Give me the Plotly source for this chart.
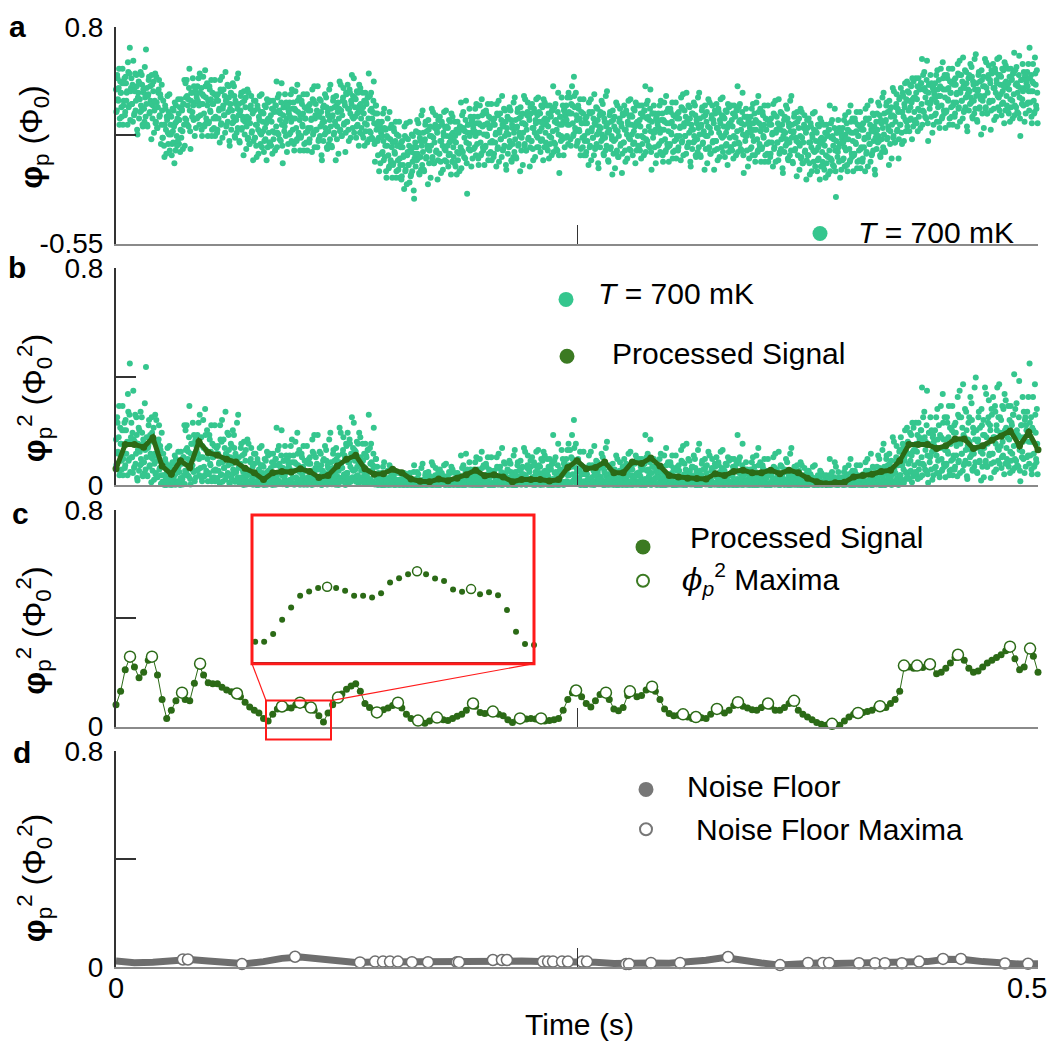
import numpy as np
import plotly.graph_objects as go

# ---------------- data ----------------
# panel a: raw flux phi_p (Phi_0); two interleaved sample sets, 1200 each, over 0..0.5 s
phi_raw = [
0.41,0.28,0.48,0.34,0.54,0.23,0.39,0.30,0.45,0.19,
0.34,0.48,0.27,0.45,0.39,0.19,0.52,0.31,0.67,0.40,
0.48,0.32,0.21,0.41,0.26,0.51,0.34,0.43,0.13,0.39,
0.23,0.35,0.52,0.28,0.44,0.18,0.39,0.21,0.36,0.66,
0.42,0.18,0.38,0.49,0.27,0.34,0.10,0.44,0.31,0.46,
0.28,0.51,0.21,0.33,0.17,0.39,0.47,0.25,0.36,0.19,
0.28,0.11,0.19,-0.01,0.31,0.16,0.24,0.37,0.07,0.13,
0.03,0.19,0.24,0.07,0.15,0.28,-0.05,0.20,0.31,0.12,
0.23,0.35,0.07,0.30,0.16,0.11,0.28,0.04,0.32,0.47,
0.23,0.36,0.47,0.19,0.35,0.42,0.28,0.04,0.39,0.24,
0.48,0.22,0.33,0.40,0.17,0.36,0.43,0.24,0.31,0.51,
0.25,0.42,0.12,0.32,0.37,0.18,0.53,0.36,0.21,0.31,
0.34,0.21,0.41,0.27,0.47,0.16,0.32,0.23,0.38,0.12,
0.23,0.37,0.16,0.34,0.28,0.08,0.41,0.20,0.49,0.29,
0.41,0.25,0.14,0.34,0.19,0.44,0.27,0.36,0.06,0.32,
0.16,0.28,0.45,0.21,0.37,0.11,0.32,0.14,0.29,0.51,
0.32,0.08,0.28,0.39,0.17,0.24,0.00,0.34,0.21,0.36,
0.18,0.41,0.11,0.23,0.07,0.29,0.37,0.15,0.26,0.09,
0.28,0.11,0.19,-0.01,0.31,0.16,0.24,0.37,0.07,0.13,
0.05,0.21,0.26,0.09,0.17,0.30,-0.03,0.22,0.33,0.14,
0.22,0.34,0.06,0.29,0.15,0.10,0.27,0.03,0.31,0.46,
0.14,0.27,0.38,0.10,0.26,0.33,0.19,-0.05,0.30,0.15,
0.38,0.12,0.23,0.30,0.07,0.26,0.33,0.14,0.21,0.41,
0.16,0.33,0.03,0.23,0.28,0.09,0.44,0.27,0.12,0.22,
0.25,0.12,0.32,0.18,0.38,0.07,0.23,0.14,0.29,0.03,
0.17,0.31,0.10,0.28,0.22,0.02,0.35,0.14,0.43,0.23,
0.32,0.16,0.05,0.25,0.10,0.35,0.18,0.27,-0.03,0.23,
0.09,0.21,0.38,0.14,0.30,0.04,0.25,0.07,0.22,0.44,
0.29,0.05,0.25,0.36,0.14,0.21,-0.03,0.31,0.18,0.33,
0.23,0.46,0.16,0.28,0.12,0.34,0.42,0.20,0.31,0.14,
0.38,0.21,0.29,0.09,0.41,0.26,0.34,0.50,0.17,0.23,
0.14,0.30,0.35,0.18,0.26,0.39,0.06,0.31,0.42,0.23,
0.27,0.39,0.11,0.34,0.20,0.15,0.32,0.08,0.36,0.51,
0.15,0.28,0.39,0.11,0.27,0.34,0.20,-0.04,0.31,0.16,
0.26,0.00,0.11,0.18,-0.05,0.14,0.21,0.02,0.09,0.29,
-0.01,0.16,-0.14,0.06,0.11,-0.08,0.27,0.10,-0.05,0.05,
0.08,-0.05,0.15,0.01,0.21,-0.10,0.06,-0.03,0.12,-0.14,
-0.06,0.08,-0.13,0.05,-0.01,-0.21,0.12,-0.09,0.20,0.00,
0.10,-0.06,-0.17,0.03,-0.12,0.13,-0.04,0.05,-0.27,0.01,
-0.07,0.05,0.22,-0.02,0.14,-0.12,0.09,-0.09,0.06,0.28,
0.14,-0.10,0.10,0.21,-0.01,0.06,-0.18,0.16,0.03,0.18,
0.06,0.29,-0.01,0.11,-0.05,0.17,0.25,0.03,0.14,-0.03,
0.18,0.01,0.09,-0.11,0.21,0.06,0.14,0.27,-0.03,0.03,
-0.04,0.12,0.17,0.00,0.08,0.21,-0.12,0.13,0.24,0.05,
0.09,0.21,-0.07,0.16,0.02,-0.03,0.14,-0.10,0.18,0.33,
0.03,0.16,0.27,-0.01,0.15,0.22,0.08,-0.24,0.19,0.04,
0.29,0.03,0.14,0.21,-0.02,0.17,0.24,0.05,0.12,0.32,
0.07,0.24,-0.06,0.14,0.19,0.00,0.35,0.18,0.03,0.13,
0.19,0.06,0.26,0.12,0.32,0.01,0.17,0.08,0.23,-0.03,
0.08,0.22,0.01,0.19,0.13,-0.07,0.26,0.05,0.34,0.14,
0.26,0.10,-0.01,0.19,0.04,0.29,0.12,0.21,-0.09,0.17,
0.01,0.13,0.30,0.06,0.22,-0.04,0.17,-0.01,0.14,0.36,
0.22,-0.02,0.18,0.29,0.07,0.14,-0.10,0.24,0.11,0.26,
0.14,0.37,0.07,0.19,0.03,0.25,0.33,0.11,0.22,0.05,
0.26,0.09,0.17,-0.03,0.29,0.14,0.22,0.35,0.05,0.11,
0.05,0.21,0.26,0.09,0.17,0.30,-0.03,0.22,0.33,0.14,
0.19,0.31,0.03,0.26,0.12,0.07,0.24,0.00,0.28,0.43,
0.08,0.21,0.32,0.04,0.20,0.27,0.13,-0.11,0.24,0.09,
0.36,0.10,0.21,0.28,0.05,0.24,0.31,0.12,0.19,0.39,
0.19,0.36,0.06,0.26,0.31,0.12,0.49,0.30,0.15,0.25,
0.22,0.09,0.29,0.15,0.35,0.04,0.20,0.11,0.26,0.00,
0.09,0.23,0.02,0.20,0.14,-0.06,0.27,0.06,0.35,0.15,
0.27,0.11,0.00,0.20,0.05,0.30,0.13,0.22,-0.08,0.18,
0.05,0.17,0.34,0.10,0.26,0.00,0.21,0.03,0.18,0.40,
0.20,-0.04,0.16,0.27,0.05,0.12,-0.12,0.22,0.09,0.24,
0.10,0.33,0.03,0.15,-0.01,0.21,0.29,0.07,0.18,0.01,
0.25,0.08,0.16,-0.04,0.28,0.13,0.21,0.34,0.04,0.10,
0.03,0.19,0.24,0.07,0.15,0.28,-0.05,0.20,0.31,0.12,
0.19,0.31,0.03,0.26,0.12,0.07,0.24,0.00,0.28,0.43,
0.10,0.23,0.34,0.06,0.22,0.29,0.15,-0.09,0.26,0.11,
0.31,0.05,0.16,0.23,0.00,0.19,0.26,0.07,0.14,0.34,
0.09,0.26,-0.04,0.16,0.21,0.02,0.37,0.20,0.05,0.15,
0.20,0.07,0.27,0.13,0.33,0.02,0.18,0.09,0.24,-0.02,
0.12,0.26,0.05,0.23,0.17,-0.03,0.30,0.09,0.38,0.18,
0.28,0.12,0.01,0.21,0.06,0.31,0.14,0.23,-0.07,0.19,
0.04,0.16,0.33,0.09,0.25,-0.01,0.20,0.02,0.17,0.39,
0.23,-0.01,0.19,0.30,0.08,0.15,-0.09,0.25,0.12,0.27,
0.12,0.35,0.05,0.17,0.01,0.23,0.31,0.09,0.20,0.03,
0.26,0.09,0.17,-0.03,0.29,0.14,0.22,0.35,0.05,0.11,
0.02,0.18,0.23,0.06,0.14,0.27,-0.06,0.19,0.30,0.11,
0.19,0.31,0.03,0.26,0.12,0.07,0.24,0.00,0.28,0.43,
0.08,0.21,0.32,0.04,0.20,0.27,0.13,-0.11,0.24,0.09,
0.29,0.03,0.14,0.21,-0.02,0.17,0.24,0.05,0.12,0.32,
0.09,0.26,-0.04,0.16,0.21,0.02,0.37,0.20,0.05,0.15,
0.18,0.05,0.25,0.11,0.31,0.00,0.16,0.07,0.22,-0.04,
0.08,0.22,0.01,0.19,0.13,-0.07,0.26,0.05,0.34,0.14,
0.24,0.08,-0.03,0.17,0.02,0.27,0.10,0.19,-0.11,0.15,
0.02,0.14,0.31,0.07,0.23,-0.03,0.18,0.00,0.15,0.37,
0.19,-0.05,0.15,0.26,0.04,0.11,-0.13,0.21,0.08,0.23,
0.06,0.29,-0.01,0.11,-0.05,0.17,0.25,0.03,0.14,-0.03,
0.17,0.00,0.08,-0.12,0.20,0.05,0.13,0.26,-0.04,0.02,
-0.07,0.09,0.14,-0.03,0.05,0.18,-0.15,0.10,0.21,0.02,
0.07,0.19,-0.09,0.14,0.00,-0.05,0.12,-0.12,0.16,0.31,
-0.02,0.11,0.22,-0.06,0.10,0.17,0.03,-0.26,0.14,-0.01,
0.22,-0.04,0.07,0.14,-0.09,0.10,0.17,-0.02,0.05,0.25,
0.03,0.20,-0.10,0.10,0.15,-0.04,0.31,0.14,-0.01,0.09,
0.14,0.01,0.21,0.07,0.27,-0.04,0.12,0.03,0.18,-0.08,
0.05,0.19,-0.02,0.16,0.10,-0.10,0.23,0.02,0.31,0.11,
0.23,0.07,-0.04,0.16,0.01,0.26,0.09,0.18,-0.12,0.14,
0.04,0.16,0.33,0.09,0.25,-0.01,0.20,0.02,0.17,0.39,
0.26,0.02,0.22,0.33,0.11,0.18,-0.06,0.28,0.15,0.30,
0.19,0.42,0.12,0.24,0.08,0.30,0.38,0.16,0.27,0.10,
0.36,0.19,0.27,0.07,0.39,0.24,0.32,0.45,0.15,0.21,
0.18,0.34,0.39,0.22,0.30,0.43,0.10,0.35,0.46,0.27,
0.36,0.48,0.20,0.43,0.29,0.24,0.41,0.17,0.45,0.60,
0.28,0.41,0.52,0.24,0.40,0.47,0.33,0.09,0.44,0.29,
0.50,0.24,0.35,0.42,0.19,0.38,0.45,0.26,0.33,0.53,
0.30,0.47,0.17,0.37,0.42,0.23,0.58,0.41,0.26,0.36,
0.41,0.28,0.48,0.34,0.54,0.23,0.39,0.30,0.45,0.19,
0.33,0.47,0.26,0.44,0.38,0.18,0.51,0.30,0.59,0.39,
0.50,0.34,0.23,0.43,0.28,0.53,0.36,0.45,0.15,0.41,
0.28,0.40,0.57,0.33,0.49,0.23,0.44,0.26,0.41,0.63,
0.45,0.21,0.41,0.52,0.30,0.37,0.13,0.47,0.34,0.49,
0.37,0.60,0.30,0.42,0.26,0.48,0.56,0.34,0.45,0.28,
0.51,0.34,0.42,0.22,0.54,0.39,0.47,0.60,0.30,0.36,
0.28,0.44,0.49,0.32,0.40,0.53,0.20,0.45,0.56,0.37,
0.42,0.54,0.26,0.49,0.35,0.30,0.47,0.23,0.51,0.64,
0.31,0.44,0.55,0.27,0.43,0.50,0.36,0.12,0.47,0.32,
0.57,0.31,0.42,0.49,0.26,0.45,0.52,0.33,0.40,0.67,
0.33,0.50,0.20,0.40,0.45,0.26,0.61,0.44,0.29,0.39,
]
phi_raw_mid = [
0.27,0.50,0.35,0.42,0.19,0.46,0.39,0.24,0.54,0.31,
0.45,0.25,0.49,0.34,0.40,0.58,0.30,0.51,0.22,0.42,
0.32,0.44,0.59,0.25,0.40,0.28,0.50,0.16,0.36,0.46,
0.45,0.27,0.31,0.50,0.19,0.41,0.29,0.55,0.24,0.32,
0.19,0.37,0.47,0.26,0.43,0.32,0.50,0.23,0.40,0.14,
0.34,0.20,0.49,0.17,0.30,0.41,0.24,0.38,0.07,0.44,
0.11,0.34,0.06,0.19,0.29,0.01,0.22,0.14,0.27,0.38,
0.25,0.13,0.00,0.29,0.08,0.18,0.33,0.03,0.21,0.06,
0.09,0.26,0.22,0.02,0.35,0.29,0.15,0.32,0.19,0.06,
0.45,0.22,0.37,0.31,0.18,0.54,0.15,0.34,0.39,0.27,
0.31,0.43,0.12,0.41,0.38,0.23,0.34,0.48,0.19,0.39,
0.32,0.16,0.38,0.49,0.26,0.19,0.43,0.23,0.45,0.12,
0.20,0.43,0.28,0.35,0.12,0.39,0.32,0.17,0.47,0.24,
0.34,0.14,0.38,0.23,0.29,0.47,0.19,0.40,0.11,0.31,
0.25,0.37,0.52,0.18,0.33,0.21,0.43,0.09,0.29,0.39,
0.38,0.20,0.24,0.43,0.12,0.34,0.22,0.48,0.17,0.25,
0.09,0.27,0.37,0.16,0.33,0.22,0.40,0.13,0.30,0.04,
0.24,0.10,0.39,0.07,0.20,0.31,0.14,0.28,-0.03,0.34,
0.11,0.34,0.06,0.19,0.29,0.01,0.22,0.14,0.27,0.38,
0.27,0.15,0.02,0.31,0.10,0.20,0.35,0.05,0.23,0.08,
0.08,0.25,0.21,0.01,0.34,0.28,0.14,0.31,0.18,0.05,
0.36,0.13,0.28,0.22,0.09,0.45,0.06,0.25,0.30,0.18,
0.21,0.33,0.02,0.31,0.28,0.13,0.24,0.38,0.09,0.29,
0.23,0.07,0.29,0.40,0.17,0.10,0.34,0.14,0.36,0.03,
0.11,0.34,0.19,0.26,0.03,0.30,0.23,0.08,0.38,0.15,
0.28,0.08,0.32,0.17,0.23,0.41,0.13,0.34,0.05,0.25,
0.16,0.28,0.43,0.09,0.24,0.12,0.34,0.00,0.20,0.30,
0.31,0.13,0.17,0.36,0.05,0.27,0.15,0.41,0.10,0.18,
0.06,0.24,0.34,0.13,0.30,0.19,0.37,0.10,0.27,0.01,
0.29,0.15,0.44,0.12,0.25,0.36,0.19,0.33,0.02,0.39,
0.21,0.44,0.16,0.29,0.39,0.11,0.32,0.24,0.37,0.48,
0.36,0.24,0.11,0.40,0.19,0.29,0.44,0.14,0.32,0.17,
0.13,0.30,0.26,0.06,0.39,0.33,0.19,0.36,0.23,0.10,
0.37,0.14,0.29,0.23,0.10,0.46,0.07,0.26,0.31,0.19,
0.09,0.21,-0.10,0.19,0.16,0.01,0.12,0.26,-0.03,0.17,
0.06,-0.10,0.12,0.23,0.00,-0.07,0.17,-0.03,0.19,-0.14,
-0.06,0.17,0.02,0.09,-0.14,0.13,0.06,-0.09,0.21,-0.02,
0.05,-0.15,0.09,-0.06,0.00,0.18,-0.10,0.11,-0.18,0.02,
-0.06,0.06,0.21,-0.13,0.02,-0.10,0.12,-0.22,-0.02,0.08,
0.15,-0.03,0.01,0.20,-0.11,0.11,-0.01,0.25,-0.06,0.02,
-0.09,0.09,0.19,-0.02,0.15,0.04,0.22,-0.05,0.12,-0.14,
0.12,-0.02,0.27,-0.05,0.08,0.19,0.02,0.16,-0.15,0.22,
0.01,0.24,-0.04,0.09,0.19,-0.09,0.12,0.04,0.17,0.28,
0.18,0.06,-0.07,0.22,0.01,0.11,0.26,-0.04,0.14,-0.01,
-0.05,0.12,0.08,-0.12,0.21,0.15,0.01,0.18,0.05,-0.08,
0.25,0.02,0.17,0.11,-0.02,0.34,-0.05,0.14,0.19,0.07,
0.12,0.24,-0.07,0.22,0.19,0.04,0.15,0.29,0.00,0.20,
0.14,-0.02,0.20,0.31,0.08,0.01,0.25,0.05,0.27,-0.06,
0.05,0.28,0.13,0.20,-0.03,0.24,0.17,0.02,0.32,0.09,
0.19,-0.01,0.23,0.08,0.14,0.32,0.04,0.25,-0.04,0.16,
0.10,0.22,0.37,0.03,0.18,0.06,0.28,-0.06,0.14,0.24,
0.23,0.05,0.09,0.28,-0.03,0.19,0.07,0.33,0.02,0.10,
-0.01,0.17,0.27,0.06,0.23,0.12,0.30,0.03,0.20,-0.06,
0.20,0.06,0.35,0.03,0.16,0.27,0.10,0.24,-0.07,0.30,
0.09,0.32,0.04,0.17,0.27,-0.01,0.20,0.12,0.25,0.36,
0.27,0.15,0.02,0.31,0.10,0.20,0.35,0.05,0.23,0.08,
0.05,0.22,0.18,-0.02,0.31,0.25,0.11,0.28,0.15,0.02,
0.30,0.07,0.22,0.16,0.03,0.39,0.00,0.19,0.24,0.12,
0.19,0.31,0.00,0.29,0.26,0.11,0.22,0.36,0.07,0.27,
0.26,0.10,0.32,0.43,0.20,0.13,0.37,0.17,0.39,0.06,
0.08,0.31,0.16,0.23,0.00,0.27,0.20,0.05,0.35,0.12,
0.20,0.00,0.24,0.09,0.15,0.33,0.05,0.26,-0.03,0.17,
0.11,0.23,0.38,0.04,0.19,0.07,0.29,-0.05,0.15,0.25,
0.27,0.09,0.13,0.32,0.01,0.23,0.11,0.37,0.06,0.14,
-0.03,0.15,0.25,0.04,0.21,0.10,0.28,0.01,0.18,-0.08,
0.16,0.02,0.31,-0.01,0.12,0.23,0.06,0.20,-0.11,0.26,
0.08,0.31,0.03,0.16,0.26,-0.02,0.19,0.11,0.24,0.35,
0.25,0.13,0.00,0.29,0.08,0.18,0.33,0.03,0.21,0.06,
0.05,0.22,0.18,-0.02,0.31,0.25,0.11,0.28,0.15,0.02,
0.32,0.09,0.24,0.18,0.05,0.41,0.02,0.21,0.26,0.14,
0.14,0.26,-0.05,0.24,0.21,0.06,0.17,0.31,0.02,0.22,
0.16,0.00,0.22,0.33,0.10,0.03,0.27,0.07,0.29,-0.04,
0.06,0.29,0.14,0.21,-0.02,0.25,0.18,0.03,0.33,0.10,
0.23,0.03,0.27,0.12,0.18,0.36,0.08,0.29,0.00,0.20,
0.12,0.24,0.39,0.05,0.20,0.08,0.30,-0.04,0.16,0.26,
0.26,0.08,0.12,0.31,0.00,0.22,0.10,0.36,0.05,0.13,
0.00,0.18,0.28,0.07,0.24,0.13,0.31,0.04,0.21,-0.05,
0.18,0.04,0.33,0.01,0.14,0.25,0.08,0.22,-0.09,0.28,
0.09,0.32,0.04,0.17,0.27,-0.01,0.20,0.12,0.25,0.36,
0.24,0.12,-0.01,0.28,0.07,0.17,0.32,0.02,0.20,0.05,
0.05,0.22,0.18,-0.02,0.31,0.25,0.11,0.28,0.15,0.02,
0.30,0.07,0.22,0.16,0.03,0.39,0.00,0.19,0.24,0.12,
0.12,0.24,-0.07,0.22,0.19,0.04,0.15,0.29,0.00,0.20,
0.16,0.00,0.22,0.33,0.10,0.03,0.27,0.07,0.29,-0.04,
0.04,0.27,0.12,0.19,-0.04,0.23,0.16,0.01,0.31,0.08,
0.19,-0.01,0.23,0.08,0.14,0.32,0.04,0.25,-0.04,0.16,
0.08,0.20,0.35,0.01,0.16,0.04,0.26,-0.08,0.12,0.22,
0.24,0.06,0.10,0.29,-0.02,0.20,0.08,0.34,0.03,0.11,
-0.04,0.14,0.24,0.03,0.20,0.09,0.27,0.00,0.17,-0.09,
0.12,-0.02,0.27,-0.05,0.08,0.19,0.02,0.16,-0.15,0.22,
0.00,0.23,-0.05,0.08,0.18,-0.10,0.11,0.03,0.16,0.27,
0.15,0.03,-0.10,0.19,-0.02,0.08,0.23,-0.07,0.11,-0.04,
-0.07,0.10,0.06,-0.14,0.19,0.13,-0.01,0.16,0.03,-0.10,
0.20,-0.03,0.12,0.06,-0.07,0.29,-0.10,0.09,0.14,0.02,
0.05,0.17,-0.14,0.15,0.12,-0.03,0.08,0.22,-0.07,0.13,
0.10,-0.06,0.16,0.27,0.04,-0.03,0.21,0.01,0.23,-0.10,
0.00,0.23,0.08,0.15,-0.08,0.19,0.12,-0.03,0.27,0.04,
0.16,-0.04,0.20,0.05,0.11,0.29,0.01,0.22,-0.07,0.13,
0.07,0.19,0.34,0.00,0.15,0.03,0.25,-0.09,0.11,0.21,
0.26,0.08,0.12,0.31,0.00,0.22,0.10,0.36,0.05,0.13,
0.03,0.21,0.31,0.10,0.27,0.16,0.34,0.07,0.24,-0.02,
0.25,0.11,0.40,0.08,0.21,0.32,0.15,0.29,-0.02,0.35,
0.19,0.42,0.14,0.27,0.37,0.09,0.30,0.22,0.35,0.46,
0.40,0.28,0.15,0.44,0.23,0.33,0.48,0.18,0.36,0.21,
0.22,0.39,0.35,0.15,0.48,0.42,0.28,0.45,0.32,0.19,
0.50,0.27,0.42,0.36,0.23,0.59,0.20,0.39,0.44,0.32,
0.33,0.45,0.14,0.43,0.40,0.25,0.36,0.50,0.21,0.41,
0.37,0.21,0.43,0.54,0.31,0.24,0.48,0.28,0.50,0.17,
0.27,0.50,0.35,0.42,0.19,0.46,0.39,0.24,0.54,0.31,
0.44,0.24,0.48,0.33,0.39,0.57,0.29,0.50,0.21,0.41,
0.34,0.46,0.61,0.27,0.42,0.30,0.52,0.18,0.38,0.48,
0.50,0.32,0.36,0.55,0.24,0.46,0.34,0.60,0.29,0.37,
0.22,0.40,0.50,0.29,0.46,0.35,0.53,0.26,0.43,0.17,
0.43,0.29,0.58,0.26,0.39,0.50,0.33,0.47,0.16,0.53,
0.34,0.57,0.29,0.42,0.52,0.24,0.45,0.37,0.50,0.61,
0.50,0.38,0.25,0.54,0.33,0.43,0.58,0.28,0.46,0.31,
0.28,0.45,0.41,0.21,0.54,0.48,0.34,0.51,0.38,0.25,
0.53,0.30,0.45,0.39,0.26,0.62,0.23,0.42,0.47,0.35,
0.40,0.52,0.21,0.50,0.47,0.32,0.43,0.57,0.28,0.48,
0.40,0.24,0.46,0.57,0.34,0.27,0.51,0.31,0.53,0.20,
]

# panel c: processed signal phi_p^2, 201 samples over 0..0.5 s
proc_c = [
0.08,0.13,0.21,0.255,0.22,0.18,0.20,0.245,0.255,0.19,
0.10,0.03,0.06,0.095,0.122,0.10,0.095,0.16,0.228,0.19,
0.162,0.158,0.158,0.145,0.135,0.128,0.122,0.11,0.09,0.072,
0.06,0.05,0.03,0.02,0.045,0.065,0.074,0.07,0.068,0.08,
0.088,0.08,0.072,0.06,0.04,0.017,0.05,0.08,0.105,0.12,
0.138,0.15,0.158,0.13,0.085,0.07,0.057,0.054,0.062,0.068,
0.078,0.088,0.068,0.045,0.03,0.024,0.02,0.012,0.02,0.03,
0.032,0.025,0.022,0.03,0.038,0.045,0.06,0.08,0.075,0.052,
0.048,0.052,0.055,0.045,0.04,0.025,0.015,0.025,0.03,0.028,
0.03,0.028,0.03,0.02,0.022,0.025,0.03,0.06,0.10,0.125,
0.132,0.11,0.085,0.072,0.095,0.118,0.125,0.10,0.065,0.058,
0.07,0.115,0.128,0.11,0.115,0.135,0.147,0.13,0.10,0.065,
0.048,0.04,0.042,0.045,0.035,0.03,0.035,0.032,0.03,0.045,
0.062,0.058,0.05,0.06,0.078,0.09,0.075,0.068,0.062,0.06,
0.07,0.082,0.075,0.06,0.06,0.07,0.085,0.095,0.06,0.045,
0.035,0.025,0.015,0.008,0.005,0.01,0.008,0.005,0.02,0.035,
0.045,0.05,0.052,0.055,0.06,0.07,0.075,0.07,0.085,0.10,
0.13,0.22,0.22,0.215,0.225,0.218,0.225,0.225,0.195,0.20,
0.215,0.235,0.255,0.262,0.245,0.215,0.20,0.205,0.22,0.235,
0.245,0.255,0.265,0.28,0.295,0.25,0.21,0.22,0.285,0.26,0.20,
]

# panel b: processed signal as drawn in panel b, 101 samples
proc_b = [
0.06,0.15,0.15,0.14,0.175,0.07,0.04,0.09,0.065,0.16,
0.12,0.11,0.095,0.085,0.062,0.045,0.02,0.045,0.05,0.048,
0.06,0.05,0.028,0.035,0.07,0.095,0.11,0.06,0.04,0.042,
0.058,0.045,0.022,0.014,0.012,0.022,0.016,0.025,0.038,0.055,
0.034,0.038,0.03,0.012,0.02,0.02,0.02,0.015,0.02,0.065,
0.09,0.06,0.065,0.085,0.045,0.045,0.085,0.08,0.10,0.07,
0.035,0.03,0.025,0.024,0.022,0.042,0.035,0.05,0.055,0.045,
0.045,0.055,0.042,0.055,0.045,0.025,0.012,0.005,0.008,0.01,
0.03,0.035,0.04,0.05,0.055,0.09,0.15,0.15,0.15,0.135,
0.145,0.17,0.17,0.135,0.145,0.165,0.18,0.20,0.145,0.195,
0.13,
]

# panel c: maxima of processed signal
max_c_t = [0.0076,0.0195,0.0358,0.0456,0.0656,0.0900,0.0998,0.1057,0.1204,0.1415,
           0.1529,0.1638,0.1741,0.1936,0.2044,0.2191,0.2305,0.2495,0.2657,0.2787,
           0.2907,0.3075,0.3145,0.3259,0.3373,0.3536,0.3677,0.3883,0.4024,0.4143,
           0.4273,0.4344,0.4414,0.4566,0.4848,0.4957]
max_c_v = [0.258,0.258,0.125,0.232,0.122,0.074,0.088,0.070,0.107,0.052,
           0.088,0.022,0.033,0.085,0.055,0.030,0.030,0.133,0.125,0.130,
           0.147,0.045,0.035,0.065,0.090,0.085,0.095,0.010,0.050,0.075,
           0.225,0.225,0.230,0.265,0.295,0.288]

# panel c inset: zoom of processed signal between 0.0813 and 0.1166 s
inset_t0, inset_t1 = 0.0813, 0.1166
inset_v = [0.0197,0.0197,0.0273,0.0414,0.0536,0.0651,0.0694,0.0727,0.0740,0.0727,
           0.0700,0.0651,0.0651,0.0634,0.0677,0.0782,0.0825,0.0865,0.0894,0.0865,
           0.0822,0.0796,0.0713,0.0690,0.0717,0.0667,0.0687,0.0657,0.0510,0.0296,
           0.0174,0.0164]
inset_max_idx = [8, 18, 24]

# panel d: noise floor, 51 samples
noise_floor = [
0.022,0.016,0.018,0.025,0.028,0.022,0.015,0.012,0.02,0.032,
0.037,0.03,0.022,0.017,0.019,0.02,0.019,0.018,0.017,0.019,
0.024,0.025,0.022,0.02,0.02,0.02,0.018,0.013,0.011,0.015,
0.014,0.017,0.025,0.035,0.028,0.015,0.007,0.012,0.015,0.013,
0.014,0.014,0.014,0.015,0.02,0.029,0.028,0.02,0.013,0.011,
0.012,
]
noise_max_t = [0.0363,0.0390,0.0683,0.0971,0.1323,0.1405,0.1448,0.1486,0.1529,0.1605,
               0.1692,0.1849,0.1860,0.2044,0.2093,0.2120,0.2316,0.2343,0.2370,0.2419,
               0.2451,0.2527,0.2554,0.2766,0.2782,0.2901,0.3059,0.3319,0.3601,0.3753,
               0.3834,0.3867,0.4029,0.4116,0.4170,0.4262,0.4355,0.4485,0.4582,0.4821,
               0.4946]
noise_max_v = [0.028,0.028,0.011,0.038,0.017,0.020,0.020,0.020,0.020,0.018,
               0.018,0.018,0.018,0.026,0.026,0.026,0.020,0.020,0.020,0.020,
               0.020,0.020,0.020,0.011,0.011,0.015,0.015,0.037,0.007,0.015,
               0.015,0.015,0.014,0.014,0.014,0.014,0.020,0.030,0.030,0.013,
               0.012]

x_range = [0, 0.5]
x_tickvals = [0, 0.25, 0.5]
ya_range = [-0.55, 0.8]
ya_tickvals = [-0.55, 0.8]
ya_ticktext = ["-0.55", "0.8"]
ya_minor = [0.125]
yb_range = [0, 0.8]
yb_tickvals = [0, 0.8]
yb_ticktext = ["0", "0.8"]
yb_minor = [0.4]

# ---------------- derived ----------------
dt = (x_range[1] - x_range[0]) / len(phi_raw)
t_raw = np.arange(len(phi_raw)) * dt
t_raw_mid = t_raw + dt / 2
t_all = np.concatenate([t_raw, t_raw_mid])
phi_all = list(phi_raw) + list(phi_raw_mid)
phi_sq = [v * v for v in phi_all]
t_c = np.linspace(x_range[0], x_range[1], len(proc_c))
t_b = np.linspace(x_range[0], x_range[1], len(proc_b))
t_n = np.linspace(x_range[0], x_range[1], len(noise_floor))
t_in = np.linspace(inset_t0, inset_t1, len(inset_v))

# ---------------- geometry helpers (pixels -> paper) ----------------
W, H = 1056, 1043
L, R, T, B = 116, 1038, 25, 967


def px_x(px):
    return (px - L) / (R - L)


def px_y(py):
    return (B - py) / (B - T)


FONT = "Liberation Sans, Arial, Helvetica, sans-serif"
GREEN = "#35c68e"
DGREEN = "#2b6a16"
LGDGREEN = "#3b7a22"
GRAY = "#6e6e6e"

fig = go.Figure()

# panel a
fig.add_trace(go.Scatter(x=t_all, y=phi_all, mode="markers", xaxis="x", yaxis="y",
                         marker=dict(size=6, color=GREEN), cliponaxis=False, showlegend=False))
# panel b
fig.add_trace(go.Scatter(x=t_all, y=phi_sq, mode="markers", xaxis="x2", yaxis="y2",
                         marker=dict(size=6, color=GREEN), cliponaxis=False, showlegend=False))
fig.add_trace(go.Scatter(x=t_b, y=proc_b, mode="lines+markers", xaxis="x2", yaxis="y2",
                         line=dict(color=DGREEN, width=5), marker=dict(size=7, color=DGREEN),
                         cliponaxis=False, showlegend=False))
# panel c
fig.add_trace(go.Scatter(x=t_c, y=proc_c, mode="lines+markers", xaxis="x3", yaxis="y3",
                         line=dict(color=DGREEN, width=1), marker=dict(size=7, color=DGREEN),
                         cliponaxis=False, showlegend=False))
fig.add_trace(go.Scatter(x=max_c_t, y=max_c_v, mode="markers", xaxis="x3", yaxis="y3",
                         marker=dict(size=11, color="white", line=dict(color=DGREEN, width=1.5)),
                         cliponaxis=False, showlegend=False))
# inset
fig.add_trace(go.Scatter(x=t_in, y=inset_v, mode="markers", xaxis="x5", yaxis="y5",
                         marker=dict(size=6, color=DGREEN), cliponaxis=False, showlegend=False))
fig.add_trace(go.Scatter(x=[t_in[i] for i in inset_max_idx], y=[inset_v[i] for i in inset_max_idx],
                         mode="markers", xaxis="x5", yaxis="y5",
                         marker=dict(size=9, color="white", line=dict(color=DGREEN, width=1.5)),
                         cliponaxis=False, showlegend=False))
# panel d
fig.add_trace(go.Scatter(x=t_n, y=noise_floor, mode="lines", xaxis="x4", yaxis="y4",
                         line=dict(color=GRAY, width=7), cliponaxis=False, showlegend=False))
fig.add_trace(go.Scatter(x=noise_max_t, y=noise_max_v, mode="markers", xaxis="x4", yaxis="y4",
                         marker=dict(size=11, color="white", line=dict(color=GRAY, width=1.5)),
                         cliponaxis=False, showlegend=False))

xcommon = dict(range=x_range, showgrid=False, zeroline=False, showline=True, linecolor="#8a8a8a",
               linewidth=1.5, ticks="inside", ticklen=19, tickwidth=1, tickcolor="#333",
               tickvals=x_tickvals, showticklabels=False, domain=[0, 1])
ycommon = dict(showgrid=False, zeroline=False, showline=True, linecolor="#333", linewidth=2,
               ticks="inside", ticklen=20, tickwidth=2, tickcolor="#333",
               tickfont=dict(size=28, color="black", family=FONT), ticklabelstandoff=5)

panels = [(25, 242), (267, 484), (509, 726), (751, 967)]
layout = dict(width=W, height=H, margin=dict(l=L, r=W - R, t=T, b=H - B, pad=0),
              plot_bgcolor="white", paper_bgcolor="white", font=dict(family=FONT, color="black"),
              showlegend=False)
for i, (top, bot) in enumerate(panels):
    n = "" if i == 0 else str(i + 1)
    layout["xaxis" + n] = dict(xcommon, anchor="y" + n)
    yd = dict(ycommon, anchor="x" + n, domain=[px_y(bot), px_y(top)])
    if i == 0:
        yd.update(range=ya_range, tickvals=ya_tickvals, ticktext=ya_ticktext,
                  minor=dict(tickvals=ya_minor, ticks="inside", ticklen=20, tickwidth=2, tickcolor="#333"))
    else:
        yd.update(range=yb_range, tickvals=yb_tickvals, ticktext=yb_ticktext,
                  minor=dict(tickvals=yb_minor, ticks="inside", ticklen=20, tickwidth=2, tickcolor="#333"))
    layout["yaxis" + n] = yd

# inset axes
layout["xaxis5"] = dict(range=[inset_t0 - 0.0004, inset_t1], domain=[px_x(252), px_x(534)], anchor="y5",
                        showgrid=False, zeroline=False, showline=True, linecolor="#333", linewidth=1.5,
                        ticks="", showticklabels=False)
layout["yaxis5"] = dict(range=[0, 0.145], domain=[px_y(661), px_y(514)], anchor="x5",
                        showgrid=False, zeroline=False, showline=False, ticks="", showticklabels=False)
fig.update_layout(**layout)

shapes = []
# inset frame, zoom box and connector lines
shapes.append(dict(type="rect", xref="paper", yref="paper", x0=px_x(252), x1=px_x(534),
                   y0=px_y(663), y1=px_y(514), line=dict(color="#ff1a1a", width=3)))
shapes.append(dict(type="rect", xref="paper", yref="paper", x0=px_x(266), x1=px_x(331),
                   y0=px_y(739), y1=px_y(700), line=dict(color="#ff1a1a", width=2)))
shapes.append(dict(type="line", xref="paper", yref="paper", x0=px_x(266), y0=px_y(700),
                   x1=px_x(252), y1=px_y(663), line=dict(color="#ff1a1a", width=1.2)))
shapes.append(dict(type="line", xref="paper", yref="paper", x0=px_x(331), y0=px_y(700),
                   x1=px_x(534), y1=px_y(663), line=dict(color="#ff1a1a", width=1.2)))


def dot(px, py, d, fill, lc=None, lw=0):
    return dict(type="circle", xref="paper", yref="paper", xsizemode="pixel", ysizemode="pixel",
                xanchor=px_x(px), yanchor=px_y(py), x0=-d / 2, x1=d / 2, y0=-d / 2, y1=d / 2,
                fillcolor=fill, line=dict(color=lc or fill, width=lw), layer="above")


shapes += [
    dot(820, 232, 15, GREEN),
    dot(566, 298, 15, GREEN),
    dot(567, 355, 15, LGDGREEN),
    dot(643, 546, 15, LGDGREEN),
    dot(643, 580, 12, "white", LGDGREEN, 2),
    dot(646, 789, 15, "#777777"),
    dot(646, 829, 12, "white", "#777777", 2),
]
fig.update_layout(shapes=shapes)

ann = []


def text(px, py, s, size=30, xanchor="left", angle=0):
    ann.append(dict(x=px_x(px), y=px_y(py), xref="paper", yref="paper", text=s, showarrow=False,
                    xanchor=xanchor, yanchor="middle", textangle=angle,
                    font=dict(size=size, family=FONT, color="black")))


# legends
text(856, 231, "<i>T</i> = 700 mK")
text(596, 292, "<i>T</i> = 700 mK")
text(610, 352, "Processed Signal")
text(688, 537, "Processed Signal")
text(680, 578, "<span style=\"font-family:'DejaVu Serif'\"><i>ϕ</i></span><sub><i>p</i></sub><sup>2</sup> Maxima")
text(685, 786, "Noise Floor")
text(694, 829, "Noise Floor Maxima")

# panel letters
text(17, 24, "<b>a</b>", size=30, xanchor="center")
text(17, 266, "<b>b</b>", size=30, xanchor="center")
text(20, 513, "<b>c</b>", size=30, xanchor="center")
text(22, 752, "<b>d</b>", size=30, xanchor="center")

# y titles
text(34, 135, "<b>φ</b><sub>p</sub> (Φ<sub>0</sub>)", size=32, xanchor="center", angle=-90)
for yc in (397, 630, 878):
    text(34, yc, "<b>φ</b><sub>p</sub><sup>2</sup> (Φ<sub>0</sub><sup>2</sup>)", size=32,
         xanchor="center", angle=-90)

# x tick labels and title
text(116, 988, "0", size=29, xanchor="center")
text(1027, 988, "0.5", size=29, xanchor="center")
text(579, 1025, "Time (s)", size=30, xanchor="center")

fig.update_layout(annotations=ann)
fig.write_html("out.html")
